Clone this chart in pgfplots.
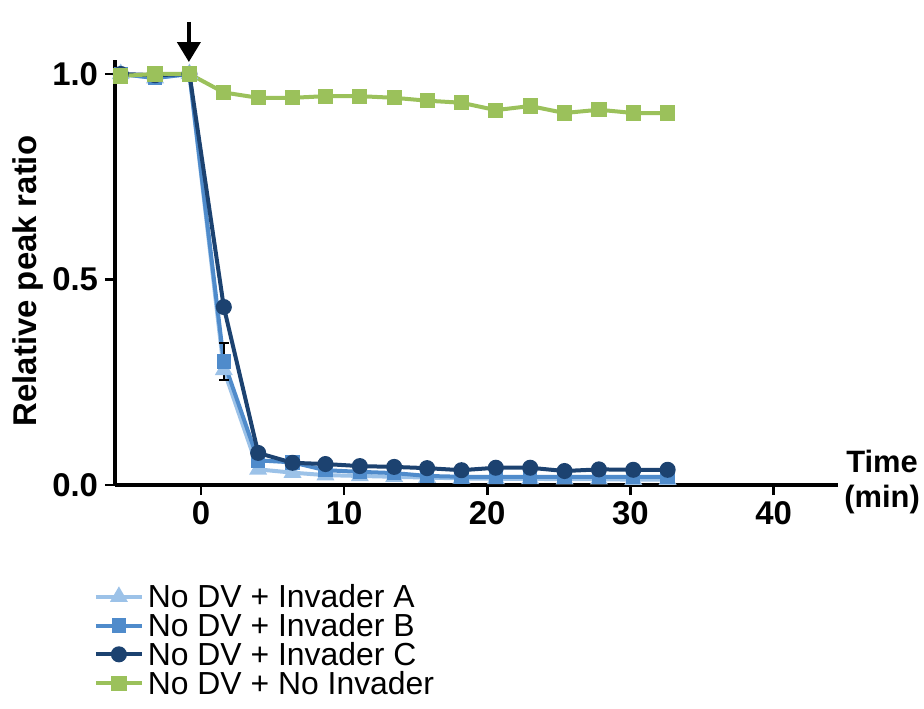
\documentclass[border=0pt]{standalone}
\usepackage{fontspec}
\setmainfont{Liberation Sans}
\usepackage{pgfplots}
\pgfplotsset{compat=1.18}
\usetikzlibrary{arrows.meta}

\definecolor{cA}{HTML}{9CC2E8}
\definecolor{cB}{HTML}{4F8BCB}
\definecolor{cC}{HTML}{1C4270}
\definecolor{cG}{HTML}{9BC15B}

\begin{document}
\begin{tikzpicture}
\path[use as bounding box] (0,0) rectangle (462bp,354.5bp);
\begin{axis}[
  at={(57.5bp,112bp)}, anchor=south west,
  scale only axis, width=361.5bp, height=212.5bp,
  xmin=-6, xmax=44.5, ymin=0, ymax=1.034,
  axis lines=left,
  axis line style={-, line width=1.6bp},
  tick style={black, line width=1.4bp},
  tick align=outside, major tick length=5bp,
  xtick={0,10,20,30,40}, ytick={0,0.5,1},
  yticklabel style={/pgf/number format/fixed, /pgf/number format/precision=1, /pgf/number format/fixed zerofill},
  ticklabel style={font=\fontsize{16.5}{18}\selectfont\bfseries},
  /pgf/number format/assume math mode=true,
  xlabel={Time\\(min)},
  xlabel style={at={(axis description cs:1.061,0.007)}, anchor=center, align=center, font=\fontsize{15.5}{17.5}\selectfont\bfseries},
  ylabel={Relative peak ratio},
  ylabel style={at={(axis description cs:-0.12,0.48)}, anchor=center, font=\fontsize{16.5}{18}\selectfont\bfseries},
  clip=false,
  legend style={at={(axis description cs:-0.038,-0.222)}, anchor=north west, draw=none, fill=none,
    font=\fontsize{16}{14}\selectfont, row sep=1.4bp,
    nodes={inner ysep=0.5bp, text depth=0.5bp, text height=11.5bp}},
  legend cell align=left,
  legend image code/.code={\draw[mark repeat=2, mark phase=2] plot coordinates {(0bp,0bp)(11.5bp,0bp)(23bp,0bp)};},
  every axis plot/.append style={line width=2bp},
]
\addplot[cA, mark=triangle*, mark size=3.2bp, mark options={solid}] coordinates {
  (-5.6,1.0) (-3.2,0.99) (-0.8,1.0) (1.6,0.28) (4.0,0.038) (6.4,0.03) (8.7,0.024) (11.1,0.022)
  (13.5,0.02) (15.8,0.018) (18.2,0.016) (20.6,0.015) (23.0,0.015) (25.4,0.014) (27.8,0.014) (30.2,0.013) (32.6,0.013)
};
\addlegendentry{No DV + Invader A}
\addplot[cB, mark=square*, mark size=2.6bp,
  error bars/.cd, y dir=both, y explicit, error bar style={black, line width=1.3bp}, error mark options={black, line width=1.3bp, mark size=2.5bp, rotate=90}] coordinates {
  (-5.6,1.0) +- (0,0) (-3.2,0.99) +- (0,0) (-0.8,1.0) +- (0,0) (1.6,0.30) +- (0,0.045) (4.0,0.06) +- (0,0.012)
  (6.4,0.055) +- (0,0) (8.7,0.036) +- (0,0) (11.1,0.032) +- (0,0) (13.5,0.029) +- (0,0) (15.8,0.022) +- (0,0)
  (18.2,0.02) +- (0,0) (20.6,0.02) +- (0,0) (23.0,0.02) +- (0,0) (25.4,0.02) +- (0,0) (27.8,0.02) +- (0,0)
  (30.2,0.02) +- (0,0) (32.6,0.02) +- (0,0)
};
\addlegendentry{No DV + Invader B}
\addplot[cC, mark=*, mark size=3bp] coordinates {
  (-5.6,1.0) (-3.2,0.997) (-0.8,1.0) (1.6,0.433) (4.0,0.078) (6.4,0.054) (8.7,0.051) (11.1,0.046)
  (13.5,0.044) (15.8,0.041) (18.2,0.036) (20.6,0.042) (23.0,0.042) (25.4,0.034) (27.8,0.038) (30.2,0.037) (32.6,0.037)
};
\addlegendentry{No DV + Invader C}
\addplot[cG, mark=square*, mark size=2.8bp] coordinates {
  (-5.6,0.995) (-3.2,1.0) (-0.8,1.0) (1.6,0.955) (4.0,0.942) (6.4,0.942) (8.7,0.946) (11.1,0.946)
  (13.5,0.942) (15.8,0.935) (18.2,0.930) (20.6,0.912) (23.0,0.922) (25.4,0.905) (27.8,0.913) (30.2,0.905) (32.6,0.905)
};
\addlegendentry{No DV + No Invader}
\draw[-{Triangle[length=10bp, width=11.5bp]}, line width=2bp, black] (axis cs:-0.84,1.127) -- (axis cs:-0.84,1.029);
\end{axis}
\end{tikzpicture}
\end{document}
